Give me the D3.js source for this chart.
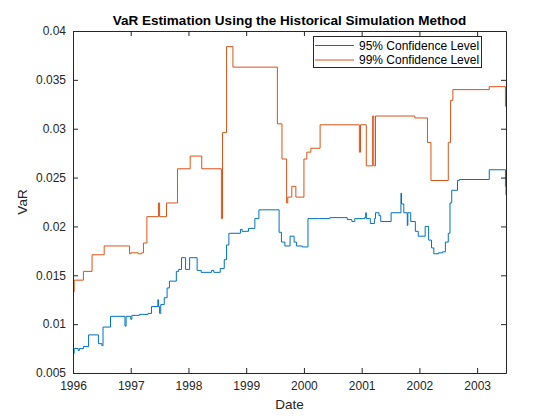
<!DOCTYPE html>
<html>
<head>
<meta charset="utf-8">
<script src="https://cdn.jsdelivr.net/npm/d3@7"></script>
<style>
  html, body { margin: 0; padding: 0; background: #fff; }
  svg { display: block; font-family: "Liberation Sans", Arial, Helvetica, sans-serif; }
</style>
</head>
<body>
<svg id="chart" width="560" height="420"></svg>
<script>
// ---- Data ----
const seriesNames = ["95% Confidence Level", "99% Confidence Level"];
const xTickLabels = [1996, 1997, 1998, 1999, 2000, 2001, 2002, 2003];
const yTickLabels = [0.005, 0.01, 0.015, 0.02, 0.025, 0.03, 0.035, 0.04];

// 95% confidence level: decimal year of each step, and VaR from that step on
const years95 = [1996.00, 1996.02, 1996.09, 1996.11, 1996.18, 1996.27, 1996.44, 1996.50, 1996.52, 1996.65,
  1996.90, 1996.92, 1997.00, 1997.02, 1997.15, 1997.30, 1997.36, 1997.47, 1997.48, 1997.50,
  1997.52, 1997.58, 1997.63, 1997.67, 1997.79, 1997.83, 1997.88, 1997.95, 1998.02, 1998.15,
  1998.22, 1998.40, 1998.44, 1998.55, 1998.62, 1998.66, 1998.70, 1998.90, 1998.93, 1999.04,
  1999.15, 1999.22, 1999.57, 1999.61, 1999.67, 1999.76, 1999.83, 1999.87, 1999.97, 2000.07,
  2000.25, 2000.45, 2000.75, 2000.83, 2000.88, 2001.05, 2001.07, 2001.08, 2001.15, 2001.22,
  2001.24, 2001.30, 2001.33, 2001.51, 2001.68, 2001.69, 2001.73, 2001.79, 2001.80, 2001.85,
  2001.93, 2001.98, 2002.10, 2002.16, 2002.21, 2002.25, 2002.33, 2002.40, 2002.45, 2002.50,
  2002.53, 2002.56, 2002.66, 2002.69, 2003.21, 2003.49, 2003.50];
const var95 = [0.0070, 0.0075, 0.0073, 0.0075, 0.0077, 0.0089, 0.0080, 0.0078, 0.0097, 0.0108,
  0.0098, 0.0108, 0.0105, 0.0109, 0.0110, 0.0111, 0.0118, 0.0125, 0.0118, 0.0111,
  0.0120, 0.0127, 0.0137, 0.0144, 0.0154, 0.0156, 0.0168, 0.0156, 0.0168, 0.0155,
  0.0153, 0.0155, 0.0153, 0.0157, 0.0166, 0.0181, 0.0193, 0.0197, 0.0195, 0.0198,
  0.0208, 0.0217, 0.0194, 0.0184, 0.0180, 0.0190, 0.0184, 0.0180, 0.0179, 0.0208,
  0.0208, 0.0209, 0.0207, 0.0205, 0.0208, 0.0209, 0.0214, 0.0208, 0.0203, 0.0208,
  0.0214, 0.0211, 0.0205, 0.0214, 0.0234, 0.0223, 0.0214, 0.0201, 0.0214, 0.0205,
  0.0195, 0.0190, 0.0200, 0.0186, 0.0178, 0.0172, 0.0173, 0.0174, 0.0184, 0.0193,
  0.0224, 0.0237, 0.0247, 0.0248, 0.0258, 0.0241, 0.0232];

// 99% confidence level
const years99 = [1996.00, 1996.02, 1996.18, 1996.33, 1996.54, 1996.98, 1997.00, 1997.13, 1997.19, 1997.22,
  1997.28, 1997.48, 1997.50, 1997.62, 1997.81, 1998.03, 1998.23, 1998.57, 1998.59, 1998.66,
  1998.77, 1999.54, 1999.62, 1999.70, 1999.72, 1999.79, 1999.86, 2000.00, 2000.05, 2000.12,
  2000.28, 2000.96, 2000.98, 2001.08, 2001.19, 2001.21, 2001.24, 2001.92, 2002.14, 2002.20,
  2002.50, 2002.54, 2002.58, 2003.21, 2003.49, 2003.50];
const var99 = [0.0133, 0.0145, 0.0154, 0.0171, 0.0180, 0.0172, 0.0173, 0.0172, 0.0173, 0.0183,
  0.0210, 0.0224, 0.0210, 0.0224, 0.0259, 0.0272, 0.0259, 0.0208, 0.0296, 0.0384,
  0.0363, 0.0305, 0.0269, 0.0224, 0.0230, 0.0241, 0.0230, 0.0269, 0.0276, 0.0280,
  0.0304, 0.0276, 0.0304, 0.0262, 0.0313, 0.0262, 0.0313, 0.0311, 0.0286, 0.0247,
  0.0286, 0.0329, 0.0340, 0.0343, 0.0323, 0.0323];

const colors = ["#0072BD", "#D95319"];

// ---- Layout ----
const svg = d3.select("#chart");
const L = 73, R = 506, T = 31, B = 373;
const axisColor = "#262626";

const x = d3.scaleLinear().domain([1996, 2003.5]).range([L, R]);
const y = d3.scaleLinear().domain([0.005, 0.04]).range([B, T]);

svg.append("rect").attr("x", L).attr("y", T).attr("width", R - L).attr("height", B - T).attr("fill", "#fff");

// ---- Lines ----
const line = d3.line()
  .x(d => x(d[0]))
  .y(d => y(d[1]))
  .curve(d3.curveStepAfter);

const series = [d3.zip(years95, var95), d3.zip(years99, var99)];
series.forEach((s, i) => {
  svg.append("path")
    .datum(s)
    .attr("d", line)
    .attr("fill", "none")
    .attr("stroke", colors[i])
    .attr("stroke-width", 1)
    .attr("stroke-linejoin", "miter");
});

// ---- Axes (MATLAB-style box with inward ticks) ----
const tickFont = 12;
const xAxisB = d3.axisBottom(x).tickValues(xTickLabels).tickFormat(d3.format("d")).tickSizeInner(-5).tickSizeOuter(0).tickPadding(8);
const xAxisT = d3.axisTop(x).tickValues(xTickLabels).tickFormat("").tickSizeInner(-5).tickSizeOuter(0);
const yAxisL = d3.axisLeft(y).tickValues(yTickLabels).tickFormat(d => String(+d.toFixed(3))).tickSizeInner(-5).tickSizeOuter(0).tickPadding(7);
const yAxisR = d3.axisRight(y).tickValues(yTickLabels).tickFormat("").tickSizeInner(-5).tickSizeOuter(0);

function style(g) {
  g.selectAll("path.domain").attr("stroke", axisColor).attr("stroke-width", 1);
  g.selectAll(".tick line").attr("stroke", axisColor).attr("stroke-width", 1);
  g.selectAll(".tick text").attr("fill", axisColor).style("font-size", tickFont + "px")
    .style("font-family", "'Liberation Sans', Arial, sans-serif");
}

svg.append("g").attr("transform", `translate(0,${B})`).call(xAxisB).call(style);
svg.append("g").attr("transform", `translate(0,${T})`).call(xAxisT).call(style);
svg.append("g").attr("transform", `translate(${L},0)`).call(yAxisL).call(style);
svg.append("g").attr("transform", `translate(${R},0)`).call(yAxisR).call(style);

// ---- Title and labels ----
svg.append("text")
  .attr("x", (L + R) / 2).attr("y", 25)
  .attr("text-anchor", "middle")
  .attr("fill", "#000")
  .style("font-size", "13.5px").style("font-weight", "bold")
  .text("VaR Estimation Using the Historical Simulation Method");

svg.append("text")
  .attr("x", (L + R) / 2).attr("y", 409)
  .attr("text-anchor", "middle")
  .attr("fill", axisColor)
  .style("font-size", "13.5px")
  .text("Date");

svg.append("text")
  .attr("transform", `translate(27,${(T + B) / 2}) rotate(-90)`)
  .attr("text-anchor", "middle")
  .attr("fill", axisColor)
  .style("font-size", "13.5px")
  .text("VaR");

// ---- Legend ----
const lg = svg.append("g");
lg.append("rect")
  .attr("x", 313.5).attr("y", 36.5).attr("width", 168).attr("height", 31)
  .attr("fill", "#fff").attr("stroke", axisColor).attr("stroke-width", 1);
seriesNames.forEach((name, i) => {
  const yy = 45.5 + i * 14.5;
  lg.append("line")
    .attr("x1", 315).attr("x2", 354).attr("y1", yy).attr("y2", yy)
    .attr("stroke", colors[i]).attr("stroke-width", 1);
  lg.append("text")
    .attr("x", 359).attr("y", yy).attr("dy", "0.35em")
    .attr("fill", "#000")
    .style("font-size", "12px")
    .text(name);
});
</script>
</body>
</html>
